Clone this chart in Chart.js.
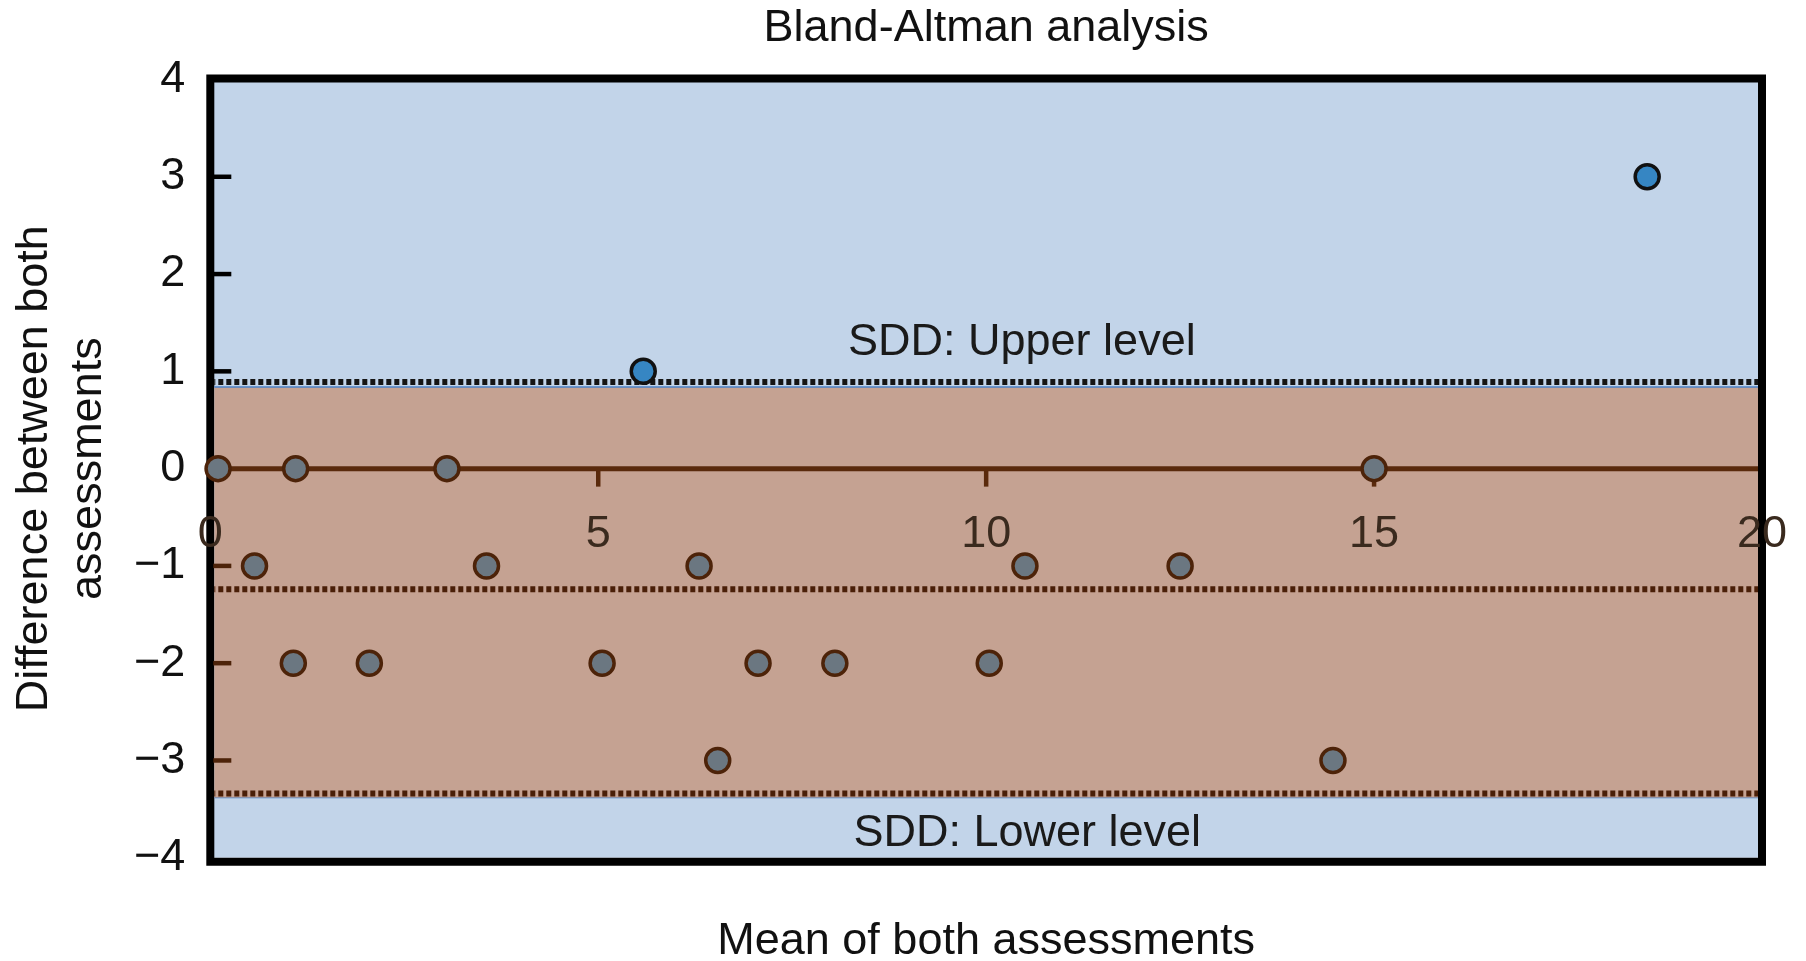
<!DOCTYPE html>
<html>
<head>
<meta charset="utf-8">
<title>Bland-Altman analysis</title>
<script src="https://cdn.jsdelivr.net/npm/chart.js@4.4.1/dist/chart.umd.min.js"></script>
<style>
  html, body { margin: 0; padding: 0; background: #fff; }
  #wrap { width: 1806px; height: 961px; }
</style>
</head>
<body>
<div id="wrap"><canvas id="baChart" width="1806" height="961"></canvas></div>
<script>
// values
var xTickLabels = [0, 5, 10, 15, 20];
var yTickMarks = [3, 2, 1, -1, -2, -3];

// points inside the limits (grey)
var withinX = [0.1, 1.1, 3.05, 15.0, 0.57, 3.56, 6.3, 10.5, 12.5, 1.07, 2.05, 5.05, 7.06, 8.05, 10.04, 6.54, 14.47];
var withinY = [0, 0, 0, 0, -1, -1, -1, -1, -1, -2, -2, -2, -2, -2, -2, -3, -3];

// points outside the limits (blue)
var outsideX = [5.58, 18.52];
var outsideY = [1, 3];

var lineX = [0, 20];
var sddUpper = 0.89;
var meanDiff = -1.24;
var sddLower = -3.34;
var bandTop = 0.84;
var bandBottom = -3.38;

var BAND_INDEX = 6;
var FONT = '"Liberation Sans", Arial, Helvetica, sans-serif';

function toPoints(xs, ys) {
    return xs.map(function (x, i) { return { x: x, y: ys[i] }; });
}

function flatLine(v) {
    return lineX.map(function (x) { return { x: x, y: v }; });
}

// background, frame, inner ticks and in-plot labels
var decor = {
    id: 'decor',
    beforeDraw: function (chart) {
        var a = chart.chartArea, ctx = chart.ctx;
        ctx.save();
        ctx.fillStyle = '#c2d4e9';
        ctx.fillRect(a.left, a.top, a.right - a.left, a.bottom - a.top);
        ctx.restore();
    },
    beforeDatasetsDraw: function (chart) {
        var a = chart.chartArea, ctx = chart.ctx;
        ctx.save();
        ctx.strokeStyle = '#000';
        ctx.lineWidth = 8;
        ctx.strokeRect(a.left, a.top - 1, a.right - a.left, a.bottom - a.top + 5);
        ctx.restore();
    },
    afterDatasetDraw: function (chart, args) {
        if (args.index !== BAND_INDEX) return;
        var a = chart.chartArea, ctx = chart.ctx;
        var xs = chart.scales.x, ys = chart.scales.y;
        var zero = ys.getPixelForValue(0);
        ctx.save();
        ctx.lineWidth = 4.5;

        // y ticks pointing inward
        yTickMarks.forEach(function (v) {
            var py = ys.getPixelForValue(v);
            ctx.strokeStyle = v > 0 ? '#000' : '#4d2309';
            ctx.beginPath();
            ctx.moveTo(a.left + 3, py);
            ctx.lineTo(a.left + 21, py);
            ctx.stroke();
        });

        // x ticks hanging from the zero line
        ctx.strokeStyle = '#5a2a0c';
        xTickLabels.slice(1, -1).forEach(function (v) {
            var px = xs.getPixelForValue(v);
            ctx.beginPath();
            ctx.moveTo(px, zero);
            ctx.lineTo(px, zero + 18);
            ctx.stroke();
        });

        ctx.font = '45px ' + FONT;
        ctx.textAlign = 'center';
        ctx.textBaseline = 'middle';
        ctx.fillStyle = '#3a2a1e';
        xTickLabels.forEach(function (v) {
            ctx.fillText(String(v), xs.getPixelForValue(v), zero + 66);
        });

        ctx.fillStyle = '#1a1a1a';
        ctx.fillText('SDD: Upper level', xs.getPixelForValue(10.46), ys.getPixelForValue(1.30));
        ctx.fillText('SDD: Lower level', xs.getPixelForValue(10.53), ys.getPixelForValue(-3.75));
        ctx.restore();
    }
};

document.addEventListener('DOMContentLoaded', function () {
    Chart.defaults.font.family = FONT;
    var ctx = document.getElementById('baChart').getContext('2d');
    var baChart = new Chart(ctx, {
        type: 'scatter',
        data: {
            datasets: [{
                label: 'outside',
                data: toPoints(outsideX, outsideY),
                backgroundColor: '#3686c3',
                borderColor: '#111',
                borderWidth: 3.5,
                pointRadius: 12,
                clip: false
            }, {
                label: 'within',
                data: toPoints(withinX, withinY),
                backgroundColor: '#6b7781',
                borderColor: '#4d2309',
                borderWidth: 3.5,
                pointRadius: 12,
                clip: false
            }, {
                type: 'line',
                label: 'zero',
                data: flatLine(0),
                borderColor: '#5a2a0c',
                borderWidth: 5,
                pointRadius: 0,
                clip: -4
            }, {
                type: 'line',
                label: 'upper SDD',
                data: flatLine(sddUpper),
                borderColor: '#151515',
                borderWidth: 6,
                borderDash: [5, 3],
                pointRadius: 0,
                clip: -4
            }, {
                type: 'line',
                label: 'mean',
                data: flatLine(meanDiff),
                borderColor: '#4a1f08',
                borderWidth: 6,
                borderDash: [5, 3],
                pointRadius: 0,
                clip: -4
            }, {
                type: 'line',
                label: 'lower SDD',
                data: flatLine(sddLower),
                borderColor: '#4a1f08',
                borderWidth: 6,
                borderDash: [5, 3],
                pointRadius: 0,
                clip: -4
            }, {
                type: 'line',
                label: 'band top',
                data: flatLine(bandTop),
                borderColor: '#4a80c4',
                borderWidth: 1.5,
                backgroundColor: '#c5a292',
                fill: '+1',
                pointRadius: 0,
                clip: -4
            }, {
                type: 'line',
                label: 'band bottom',
                data: flatLine(bandBottom),
                borderColor: '#4a80c4',
                borderWidth: 1.5,
                pointRadius: 0,
                clip: -4
            }]
        },
        options: {
            responsive: false,
            animation: false,
            events: [],
            layout: {
                padding: { left: 0, right: 44, top: 0, bottom: 0 }
            },
            scales: {
                x: {
                    type: 'linear',
                    min: 0,
                    max: 20,
                    grid: { display: false, drawTicks: false },
                    border: { display: false },
                    ticks: { display: false },
                    title: {
                        display: true,
                        text: 'Mean of both assessments',
                        color: '#111',
                        font: { size: 45, lineHeight: 0.85 },
                        padding: { top: 65, bottom: 0 }
                    }
                },
                y: {
                    min: -4,
                    max: 4,
                    grid: { display: false, drawTicks: false },
                    border: { display: false },
                    ticks: {
                        stepSize: 1,
                        color: '#111',
                        padding: 25,
                        font: { size: 45 },
                        callback: function (v) {
                            return v < 0 ? '\u2212' + Math.abs(v) : String(v);
                        }
                    },
                    title: {
                        display: true,
                        text: ['Difference between both', 'assessments'],
                        color: '#111',
                        font: { size: 45, lineHeight: 1.2 },
                        padding: { top: 8, bottom: -7 }
                    }
                }
            },
            plugins: {
                legend: { display: false },
                tooltip: { enabled: false },
                title: {
                    display: true,
                    fullSize: false,
                    text: 'Bland-Altman analysis',
                    color: '#111',
                    font: { size: 45, weight: 'normal', lineHeight: 1.1 },
                    padding: { top: 4, bottom: 26 }
                }
            }
        },
        plugins: [decor]
    });
});
</script>
</body>
</html>
